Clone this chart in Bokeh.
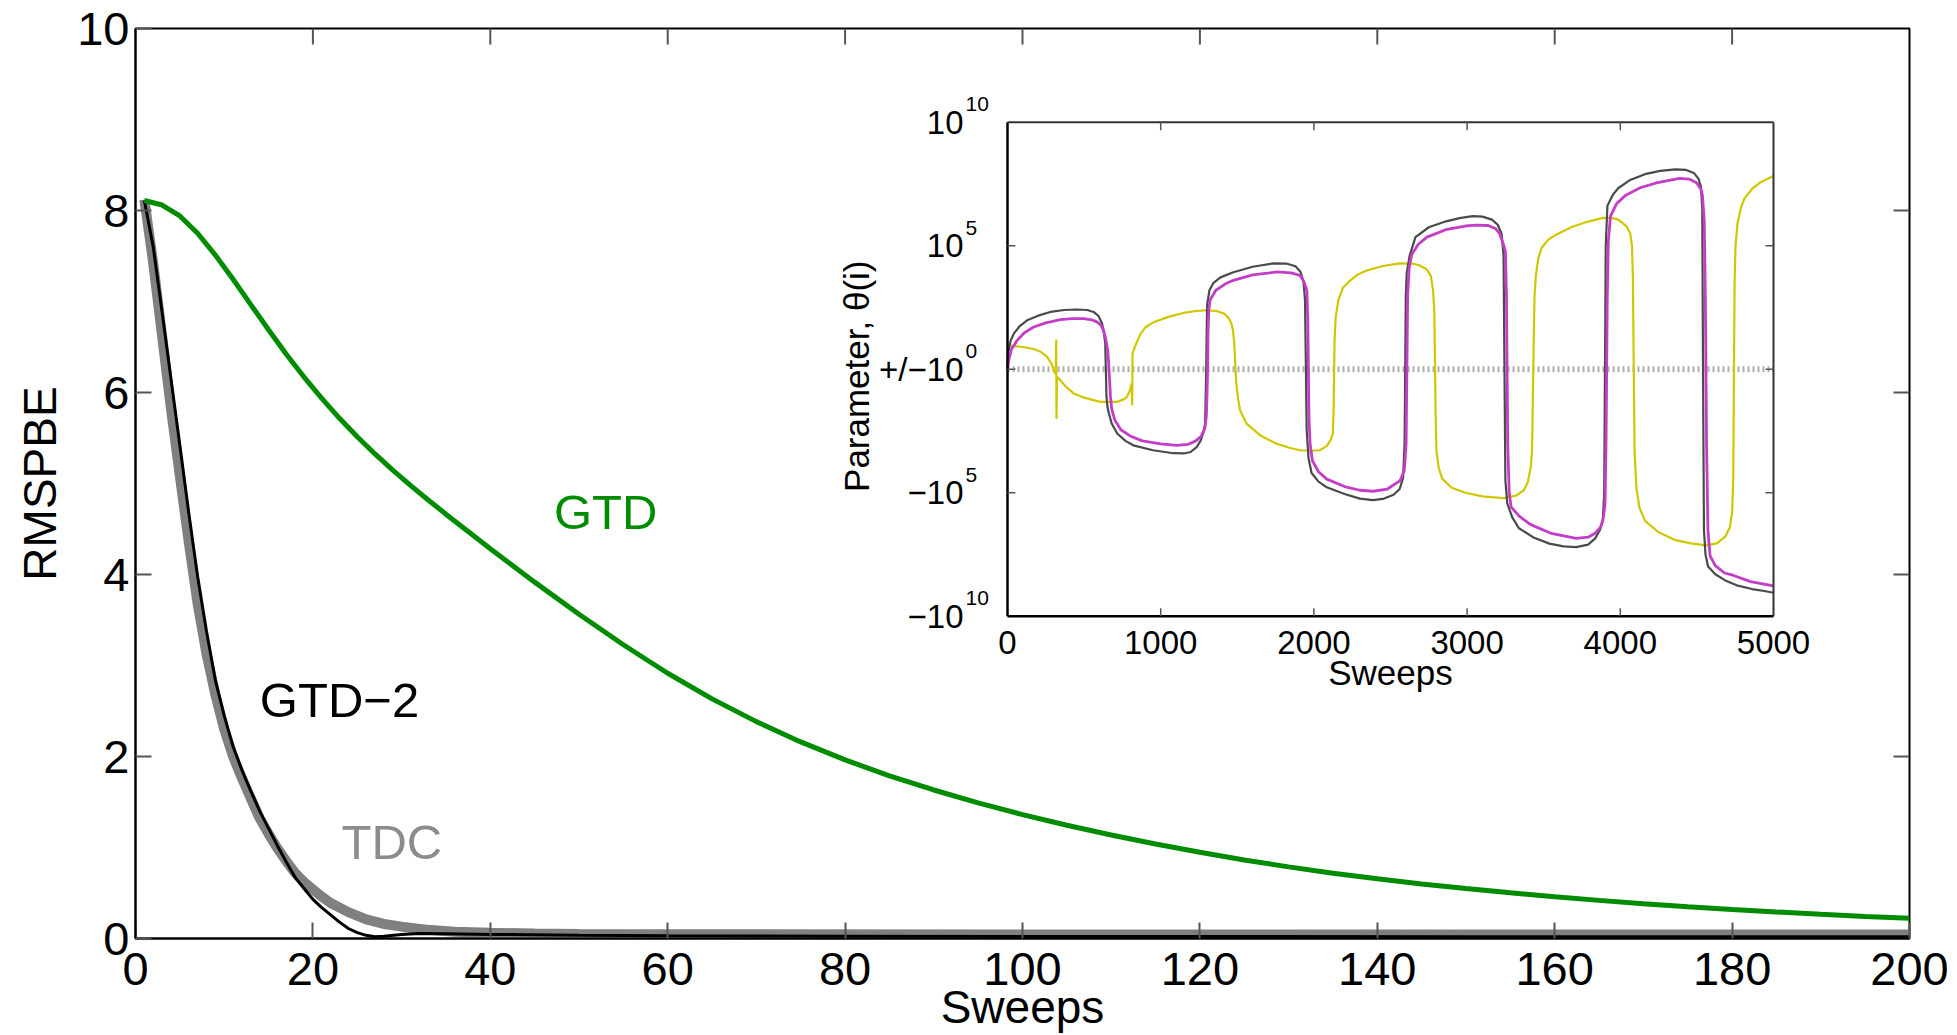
import math
from bokeh.plotting import figure
from bokeh.models import Range1d, FixedTicker
from bokeh.embed import file_html
from bokeh.resources import INLINE
from bokeh.core.properties import value

FONT = "Liberation Sans"

# ---------------- main panel data ----------------
main_xlim = [0, 200]
main_ylim = [0, 10]
main_xticks = [0, 20, 40, 60, 80, 100, 120, 140, 160, 180, 200]
main_yticks = [0, 2, 4, 6, 8, 10]
main_xlabel = "Sweeps"
main_ylabel = "RMSPBE"

gtd_x = [1, 3, 5, 7, 9, 11, 13, 15, 17, 19, 21, 23, 25, 27, 29, 31, 33, 35, 40, 45, 50, 55,
         60, 65, 70, 75, 80, 85, 90, 95, 100, 105, 110, 115, 120, 125, 130, 135, 140, 145,
         150, 155, 160, 165, 170, 175, 180, 185, 190, 195, 200]
gtd_y = [8.11, 8.06, 7.94, 7.75, 7.51, 7.245, 6.965, 6.69, 6.42, 6.17, 5.935, 5.716, 5.513,
         5.325, 5.148, 4.98, 4.819, 4.663, 4.283, 3.916, 3.563, 3.228, 2.915, 2.633, 2.383,
         2.16, 1.963, 1.788, 1.632, 1.491, 1.362, 1.245, 1.137, 1.038, 0.947, 0.863, 0.787,
         0.718, 0.656, 0.600, 0.549, 0.502, 0.459, 0.419, 0.383, 0.349, 0.319, 0.291, 0.266,
         0.243, 0.222]

gtd2_x = [1, 2, 3, 4, 5, 6, 7, 8, 9, 10, 11, 12, 13, 14, 15, 16, 17, 18, 19, 20, 21, 22,
          23, 24, 25, 26, 27, 28, 30, 32, 35, 40, 50, 60, 80, 100, 150, 200]
gtd2_y = [8.11, 7.6, 6.88, 6.15, 5.42, 4.68, 3.98, 3.38, 2.84, 2.45, 2.11, 1.85, 1.62, 1.40,
          1.21, 1.02, 0.84, 0.67, 0.55, 0.43, 0.34, 0.26, 0.18, 0.11, 0.065, 0.035, 0.02,
          0.025, 0.045, 0.055, 0.052, 0.045, 0.035, 0.03, 0.025, 0.022, 0.02, 0.02]

tdc_x = [1, 2, 3, 4, 5, 6, 7, 8, 9, 10, 11, 12, 13, 14, 15, 16, 17, 18, 19, 20, 21, 22, 24,
         26, 28, 30, 33, 36, 40, 45, 50, 70, 100, 150, 200]
tdc_y = [8.12, 7.42, 6.62, 5.82, 5.08, 4.36, 3.68, 3.13, 2.68, 2.30, 2.00, 1.76, 1.54, 1.32,
         1.15, 0.99, 0.85, 0.72, 0.62, 0.54, 0.46, 0.39, 0.29, 0.21, 0.16, 0.13, 0.095, 0.075,
         0.062, 0.055, 0.05, 0.046, 0.045, 0.045, 0.045]

series_names = ["GTD", "GTD\u22122", "TDC"]
series_label_x = [53.0, 23.0, 28.9]
series_label_y = [4.69, 2.62, 1.06]

# ---------------- inset data (signed log10 of the parameter) ----------------
inset_xlim = [0, 5000]
inset_ylim = [-10, 10]
inset_xticks = [0, 1000, 2000, 3000, 4000, 5000]
inset_yticks = [-10, -5, 0, 5, 10]
inset_ybase = ["\u221210", "\u221210", "+/\u221210", "10", "10"]
inset_yexp = ["10", "5", "0", "5", "10"]
inset_xlabel = "Sweeps"
inset_ylabel = "Parameter, \u03b8(i)"

theta_gray_x = [0, 4, 9, 20, 41, 80, 128, 200, 280, 370, 454, 520, 562, 595, 617, 630, 638, 642,
                646, 652, 660, 680, 716, 770, 821, 950, 1082, 1150, 1195, 1235, 1260, 1280, 1290,
                1294, 1297, 1300, 1303, 1318, 1345, 1390, 1474, 1600, 1735, 1820, 1880, 1912,
                1932, 1942, 1948, 1953, 1965, 1985, 2030, 2084, 2200, 2300, 2385, 2450, 2520,
                2560, 2582, 2592, 2596, 2600, 2606, 2625, 2663, 2750, 2863, 2950, 3037, 3100,
                3162, 3200, 3225, 3238, 3244, 3250, 3262, 3295, 3337, 3430, 3537, 3630, 3712,
                3790, 3836, 3868, 3886, 3895, 3900, 3905, 3916, 3950, 3986, 4060, 4161, 4260,
                4361, 4430, 4480, 4510, 4526, 4535, 4540, 4546, 4556, 4573, 4620, 4685, 4760,
                4860, 4940, 5000]
theta_gray_y = [0.1, 0.6, 0.8, 1.15, 1.44, 1.75, 1.98, 2.17, 2.32, 2.40, 2.42, 2.40, 2.32, 2.15,
                1.85, 1.45, 1.04, 0.0, -1.1, -1.5, -1.75, -2.2, -2.6, -2.9, -3.08, -3.28, -3.40,
                -3.41, -3.35, -3.15, -2.9, -2.55, -2.2, -1.0, 0.0, 1.5, 2.6, 3.2, 3.5, 3.72, 3.93,
                4.15, 4.29, 4.28, 4.17, 3.95, 3.55, 2.8, 0.0, -2.5, -3.6, -4.2, -4.55, -4.78,
                -5.05, -5.24, -5.30, -5.25, -5.08, -4.85, -4.4, -3.0, 0.0, 3.0, 3.9, 4.6, 5.35,
                5.75, 5.99, 6.12, 6.2, 6.18, 6.06, 5.85, 5.49, 4.6, 0.0, -4.5, -5.43, -6.0, -6.43,
                -6.8, -7.06, -7.17, -7.2, -7.1, -6.85, -6.5, -6.1, -5.0, 0.0, 5.0, 6.62, 7.05,
                7.33, 7.65, 7.9, 8.03, 8.09, 8.07, 7.95, 7.72, 7.4, 6.5, 0.0, -6.5, -7.5, -7.99,
                -8.3, -8.55, -8.75, -8.9, -8.98, -9.05]

theta_mag_x = [0, 8, 25, 63, 110, 171, 250, 345, 420, 497, 550, 584, 610, 627, 642, 654, 660,
               666, 672, 680, 700, 740, 800, 880, 1000, 1105, 1180, 1230, 1265, 1288, 1298, 1303,
               1306, 1309, 1314, 1322, 1360, 1420, 1474, 1600, 1758, 1850, 1909, 1935, 1954,
               1960, 1964, 1968, 1975, 1990, 2030, 2084, 2200, 2300, 2388, 2480, 2563, 2590,
               2602, 2607, 2612, 2622, 2638, 2680, 2738, 2860, 2988, 3060, 3137, 3185, 3212,
               3235, 3250, 3257, 3261, 3265, 3275, 3287, 3340, 3412, 3550, 3712, 3790, 3836,
               3870, 3886, 3900, 3907, 3911, 3915, 3922, 3936, 3975, 4036, 4130, 4236, 4386,
               4450, 4498, 4525, 4536, 4548, 4555, 4559, 4563, 4572, 4586, 4620, 4680, 4735,
               4850, 5000]
theta_mag_y = [0.0, 0.36, 0.8, 1.17, 1.48, 1.71, 1.88, 2.01, 2.05, 2.05, 2.0, 1.92, 1.78, 1.58,
               1.2, 0.77, 0.3, -0.4, -1.1, -1.6, -2.05, -2.45, -2.7, -2.9, -3.02, -3.08, -3.04,
               -2.9, -2.7, -2.4, -1.9, -0.9, 0.0, 1.5, 2.4, 2.8, 3.2, 3.45, 3.6, 3.82, 3.94, 3.9,
               3.8, 3.55, 3.2, 2.0, 0.0, -2.0, -3.0, -3.7, -4.15, -4.45, -4.75, -4.9, -4.94,
               -4.85, -4.51, -4.1, -3.0, 0.0, 3.0, 4.1, 4.64, 5.05, 5.35, 5.65, 5.8, 5.84, 5.82,
               5.7, 5.49, 5.1, 4.78, 3.0, 0.0, -3.0, -5.0, -5.57, -5.95, -6.28, -6.65, -6.85,
               -6.8, -6.64, -6.4, -6.14, -5.5, -3.0, 0.0, 3.0, 5.2, 6.2, 6.7, 7.05, 7.35, 7.55,
               7.73, 7.7, 7.55, 7.3, 7.05, 6.0, 3.0, 0.0, -3.0, -6.5, -7.56, -7.95, -8.25,
               -8.34, -8.6, -8.77]

theta_yel_x = [0, 60, 120, 171, 220, 258, 285, 302, 315, 318, 320, 323, 345, 380, 432, 500, 606,
               714, 760, 779, 800, 810, 814, 816, 834, 866, 900, 953, 1050, 1147, 1220, 1303,
               1370, 1415, 1440, 1460, 1472, 1482, 1488, 1494, 1505, 1518, 1560, 1648, 1750,
               1840, 1909, 1980, 2039, 2085, 2110, 2124, 2129, 2132, 2135, 2142, 2160, 2189,
               2238, 2290, 2345, 2450, 2560, 2640, 2688, 2735, 2763, 2778, 2786, 2791, 2795,
               2800, 2815, 2838, 2900, 2988, 3100, 3237, 3320, 3370, 3395, 3415, 3424, 3432,
               3440, 3449, 3465, 3487, 3530, 3580, 3687, 3790, 3886, 3950, 3986, 4040, 4065,
               4076, 4082, 4088, 4093, 4105, 4125, 4161, 4250, 4361, 4460, 4561, 4630, 4685,
               4715, 4730, 4737, 4742, 4746, 4752, 4765, 4790, 4810, 4860, 4910, 4960, 5000]
theta_yel_y = [0.97, 0.93, 0.88, 0.82, 0.7, 0.5, 0.25, -0.04, -0.2, 1.2, -2.0, -0.3, -0.45, -0.7,
               -0.98, -1.15, -1.32, -1.32, -1.22, -1.12, -0.85, -0.58, -1.46, 0.63, 0.95, 1.4,
               1.7, 1.9, 2.12, 2.28, 2.35, 2.39, 2.35, 2.25, 2.1, 1.88, 1.58, 0.9, 0.0, -0.6,
               -1.2, -1.66, -2.2, -2.67, -3.0, -3.18, -3.28, -3.3, -3.28, -3.1, -2.85, -2.6,
               -1.5, 0.0, 1.2, 2.1, 2.8, 3.3, 3.6, 3.85, 4.0, 4.18, 4.29, 4.28, 4.21, 4.05,
               3.79, 3.2, 2.37, 0.0, -2.0, -3.3, -4.0, -4.44, -4.8, -5.0, -5.15, -5.22, -5.12,
               -4.9, -4.6, -4.0, -3.3, 0.0, 3.0, 3.79, 4.5, 4.92, 5.25, 5.45, 5.77, 5.98, 6.13,
               6.12, 6.06, 5.8, 5.5, 5.0, 3.79, 0.0, -3.3, -4.8, -5.6, -6.14, -6.6, -6.92,
               -7.05, -7.13, -7.05, -6.78, -6.4, -5.8, -4.5, 0.0, 3.5, 5.0, 5.9, 6.6, 6.91,
               7.3, 7.55, 7.7, 7.83]

# ---------------- layout (figure pixels) ----------------
W, H = 1957, 1035
FL, FR, FT, FB = 135, 1909, 28, 940          # main frame
IL, IR, IT, IB = 1007, 1773, 122, 617        # inset frame

p = figure(width=W, height=H,
           x_range=Range1d(*main_xlim), y_range=Range1d(*main_ylim),
           min_border_left=FL, min_border_right=W - FR,
           min_border_top=FT, min_border_bottom=H - FB,
           output_backend="svg", toolbar_location=None)
p.outline_line_color = "black"
p.outline_line_width = 2
p.background_fill_color = "white"
p.border_fill_color = "white"
p.xgrid.grid_line_color = None
p.ygrid.grid_line_color = None

TICK_COL = "#555555"
TICK_LEN = 16
for ax in (p.xaxis[0], p.yaxis[0]):
    ax.axis_line_color = "black"
    ax.axis_line_width = 2
    ax.major_tick_in = TICK_LEN
    ax.major_tick_out = 0
    ax.major_tick_line_color = TICK_COL
    ax.major_tick_line_width = 2
    ax.minor_tick_line_color = None
    ax.major_label_text_font = FONT
    ax.major_label_text_font_size = "47px"
    ax.major_label_text_color = "black"
    ax.axis_label_text_font = FONT
    ax.axis_label_text_font_size = "46px"
    ax.axis_label_text_font_style = "normal"
    ax.axis_label_text_color = "black"

p.xaxis.ticker = FixedTicker(ticks=main_xticks)
p.yaxis.ticker = FixedTicker(ticks=main_yticks)
p.xaxis.major_label_standoff = 14
p.yaxis.major_label_standoff = 6
p.xaxis.axis_label = main_xlabel
p.xaxis.axis_label_standoff = -7
p.yaxis.axis_label = main_ylabel
p.yaxis.axis_label_standoff = 8

# inward ticks on the top and right edges of the box
xpx = (FR - FL) / (main_xlim[1] - main_xlim[0])
ypx = (FB - FT) / (main_ylim[1] - main_ylim[0])
mxt = main_xticks[1:-1]
myt = main_yticks[1:-1]
p.segment(x0=mxt, x1=mxt, y0=[main_ylim[1]] * len(mxt),
          y1=[main_ylim[1] - TICK_LEN / ypx] * len(mxt),
          line_color=TICK_COL, line_width=2)
p.segment(x0=[main_xlim[1]] * len(myt), x1=[main_xlim[1] - TICK_LEN / xpx] * len(myt),
          y0=myt, y1=myt, line_color=TICK_COL, line_width=2)

# main curves
p.line(tdc_x, tdc_y, line_color="#808080", line_width=10)
p.line(gtd2_x, gtd2_y, line_color="black", line_width=3)
p.line(gtd_x, gtd_y, line_color="#008c00", line_width=5)

label_colors = ["#008c00", "black", "#8c8c8c"]
p.text(x=series_label_x, y=series_label_y, text=series_names,
       text_color=label_colors, text_font=value(FONT), text_font_size="49px",
       text_align="center", text_baseline="middle")

# ---------------- inset, drawn with extra ranges ----------------
ixpx = (IR - IL) / (inset_xlim[1] - inset_xlim[0])
iypx = (IB - IT) / (inset_ylim[1] - inset_ylim[0])
p.extra_x_ranges = {"ix": Range1d(inset_xlim[0] - (IL - FL) / ixpx,
                                  inset_xlim[1] + (FR - IR) / ixpx)}
p.extra_y_ranges = {"iy": Range1d(inset_ylim[0] - (FB - IB) / iypx,
                                  inset_ylim[1] + (IT - FT) / iypx)}
R = dict(x_range_name="ix", y_range_name="iy")
xl, xr = inset_xlim
yb, yt = inset_ylim

p.quad(left=[xl], right=[xr], bottom=[yb], top=[yt], fill_color="white",
       line_color=None, **R)
p.line(x=[xl, xr], y=[0, 0], line_color="#b0b0b0", line_width=6, line_dash="2 3", **R)

p.line(theta_yel_x, theta_yel_y, line_color="#cfc800", line_width=2.2, **R)
p.line(theta_gray_x, theta_gray_y, line_color="#4a4a4a", line_width=2.2, **R)
p.line(theta_mag_x, theta_mag_y, line_color="#c43dc9", line_width=2.8, **R)

# inset box
p.segment(x0=[xl, xl], y0=[yb, yb], x1=[xl, xr], y1=[yt, yb],
          line_color="black", line_width=2.5, **R)
p.segment(x0=[xl, xr], y0=[yt, yb], x1=[xr, xr], y1=[yt, yt],
          line_color="#333333", line_width=2, **R)

# inset ticks (inward)
tlx = 8 / ixpx
tly = 8 / iypx
ixt = inset_xticks[1:-1]
iyt = inset_yticks[1:-1]
p.segment(x0=ixt, x1=ixt, y0=[yb] * len(ixt), y1=[yb + tly] * len(ixt),
          line_color=TICK_COL, line_width=1.5, **R)
p.segment(x0=ixt, x1=ixt, y0=[yt] * len(ixt), y1=[yt - tly] * len(ixt),
          line_color=TICK_COL, line_width=1.5, **R)
p.segment(x0=[xl] * len(iyt), x1=[xl + tlx] * len(iyt), y0=iyt, y1=iyt,
          line_color=TICK_COL, line_width=1.5, **R)
p.segment(x0=[xr] * len(iyt), x1=[xr - tlx] * len(iyt), y0=iyt, y1=iyt,
          line_color=TICK_COL, line_width=1.5, **R)

# inset tick labels
p.text(x=inset_xticks, y=[yb] * len(inset_xticks), text=[str(t) for t in inset_xticks],
       y_offset=26, text_align="center", text_baseline="middle",
       text_font=value(FONT), text_font_size="33px", text_color="black", **R)
p.text(x=[xl] * len(inset_yticks), y=inset_yticks, text=inset_ybase,
       x_offset=-44, text_align="right", text_baseline="middle",
       text_font=value(FONT), text_font_size="33px", text_color="black", **R)
p.text(x=[xl] * len(inset_yticks), y=inset_yticks, text=inset_yexp,
       x_offset=-42, y_offset=-18, text_align="left", text_baseline="middle",
       text_font=value(FONT), text_font_size="21px", text_color="black", **R)

# inset axis labels
p.text(x=[(xl + xr) / 2], y=[yb], text=[inset_xlabel], y_offset=56,
       text_align="center", text_baseline="middle",
       text_font=value(FONT), text_font_size="35px", text_color="black", **R)
p.text(x=[xl - 151 / ixpx], y=[-7 / iypx], text=[inset_ylabel], angle=math.pi / 2,
       text_align="center", text_baseline="middle",
       text_font=value(FONT), text_font_size="35px", text_color="black", **R)

open("out.html", "w").write(file_html(p, INLINE))
